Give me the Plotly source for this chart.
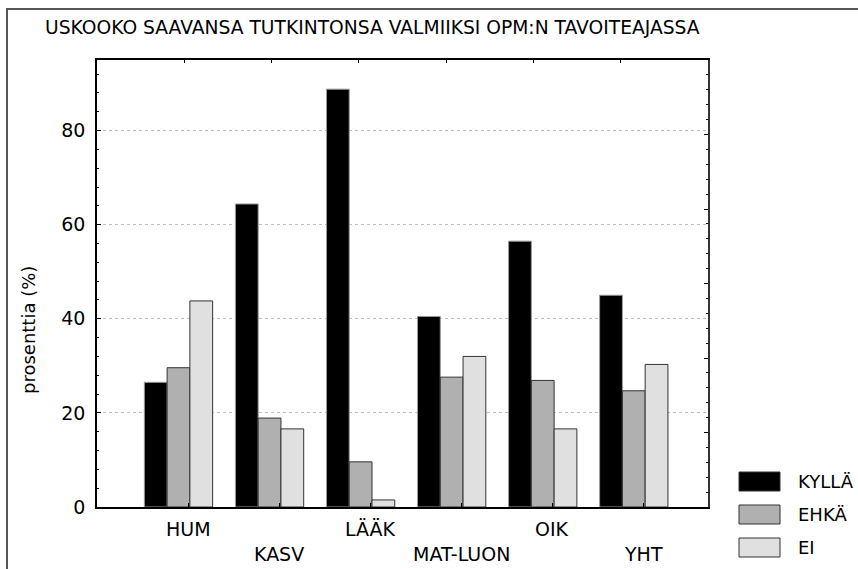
import plotly.graph_objects as go

# Data (percent)
categories = ["HUM", "KASV", "LÄÄK", "MAT-LUON", "OIK", "YHT"]
series_names = ["KYLLÄ", "EHKÄ", "EI"]
kylla = [26.5, 64.4, 88.8, 40.5, 56.5, 45.0]
ehka = [29.6, 18.9, 9.6, 27.6, 26.9, 24.7]
ei = [43.8, 16.6, 1.5, 32.0, 16.6, 30.3]
y_ticks = [0, 20, 40, 60, 80]

series = [kylla, ehka, ei]
colors = ["#000000", "#b0b0b0", "#e0e0e0"]
edges = ["#9a9a9a", "#333333", "#333333"]
offsets = [-0.48, -0.23, 0.02]
font = "DejaVu Sans"

# Canvas and plot-area geometry (px)
W, H = 858, 569
L, R, T, B = 97, 150, 60, 62
pw, ph = W - L - R, H - T - B


def px(x):
    return (x - L) / pw


def py(y):
    return (H - B - y) / ph


pos = list(range(len(categories)))

fig = go.Figure()
for name, vals, col, edge, off in zip(series_names, series, colors, edges, offsets):
    fig.add_trace(go.Bar(
        x=pos, y=vals, name=name, width=0.25, offset=off,
        marker=dict(color=col, line=dict(color=edge, width=1)),
        showlegend=False
    ))

# empty trace so the top/right frame axes get drawn
fig.add_trace(go.Scatter(x=[], y=[], xaxis="x2", yaxis="y2",
                         showlegend=False, hoverinfo="skip"))

# staggered category labels
annotations = []
for i, cat in enumerate(categories):
    annotations.append(dict(
        x=i, y=0, xref="x", yref="paper", text=cat, showarrow=False,
        yanchor="middle", yshift=-22 if i % 2 == 0 else -47,
        font=dict(family=font, size=19, color="black")
    ))

# y axis title
annotations.append(dict(
    x=px(28), y=py(330), xref="paper", yref="paper", text="prosenttia (%)",
    xanchor="center", yanchor="middle",
    textangle=-90, showarrow=False, font=dict(family=font, size=18, color="black")
))

# custom legend: wide boxes + labels
shapes = []
for i, (name, col) in enumerate(zip(series_names, colors)):
    top = 472 + 33 * i
    shapes.append(dict(
        type="rect", xref="paper", yref="paper",
        x0=px(739), x1=px(780), y0=py(top + 19), y1=py(top),
        fillcolor=col, line=dict(color="#333333", width=1)
    ))
    annotations.append(dict(
        x=px(796), y=py(top + 9.5), xref="paper", yref="paper", text=name,
        xanchor="left", yanchor="middle", showarrow=False,
        font=dict(family=font, size=18, color="black")
    ))

# outer frame (runs off the right/bottom edge)
shapes.append(dict(
    type="rect", xref="paper", yref="paper",
    x0=px(7), x1=px(900), y0=py(620), y1=py(9),
    line=dict(color="#555555", width=2), fillcolor="rgba(0,0,0,0)"
))

fig.update_layout(
    width=W, height=H,
    margin=dict(l=L, r=R, t=T, b=B),
    paper_bgcolor="white", plot_bgcolor="white",
    barmode="overlay",
    font=dict(family=font, color="black"),
    title=dict(
        text="USKOOKO SAAVANSA TUTKINTONSA VALMIIKSI OPM:N TAVOITEAJASSA",
        x=45 / W, xref="container", xanchor="left",
        y=1 - 27 / H, yref="container", yanchor="middle",
        font=dict(family=font, size=18.7, color="black")
    ),
    xaxis=dict(
        range=[-1, 5.71], tickvals=pos, ticks="inside", ticklen=4,
        tickcolor="black", showticklabels=False, showline=True,
        linecolor="black", linewidth=1.5, showgrid=False, zeroline=False
    ),
    yaxis=dict(
        range=[0, 95], tickvals=y_ticks, ticks="inside", ticklen=4,
        tickcolor="black", tickfont=dict(family=font, size=19),
        ticklabelstandoff=6,
        minor=dict(dtick=4, tick0=0, ticks="inside", ticklen=2,
                   tickcolor="black", showgrid=False),
        showgrid=True, gridcolor="#bdbdbd", griddash="dot", gridwidth=1,
        showline=True, linecolor="black", linewidth=1.5, zeroline=False
    ),
    xaxis2=dict(
        overlaying="x", side="top", anchor="y", range=[0, 7], dtick=1,
        ticks="inside", ticklen=3, tickcolor="black", showticklabels=False,
        showline=True, linecolor="black", linewidth=1.5, showgrid=False,
        zeroline=False
    ),
    yaxis2=dict(
        overlaying="y", side="right", anchor="x", range=[0, 30], dtick=5,
        ticks="inside", ticklen=4, tickcolor="black", showticklabels=False,
        minor=dict(dtick=1, ticks="inside", ticklen=2, tickcolor="black",
                   showgrid=False),
        showline=True, linecolor="#333333", linewidth=2, showgrid=False,
        zeroline=False
    ),
    shapes=shapes,
    annotations=annotations,
)

# drop the default 8px page margin so the figure sits at the window's corner
fig.write_html("out.html",
               config={"displayModeBar": False},
               post_script="document.body.style.margin='0';"
                           "document.body.style.overflow='hidden';")
